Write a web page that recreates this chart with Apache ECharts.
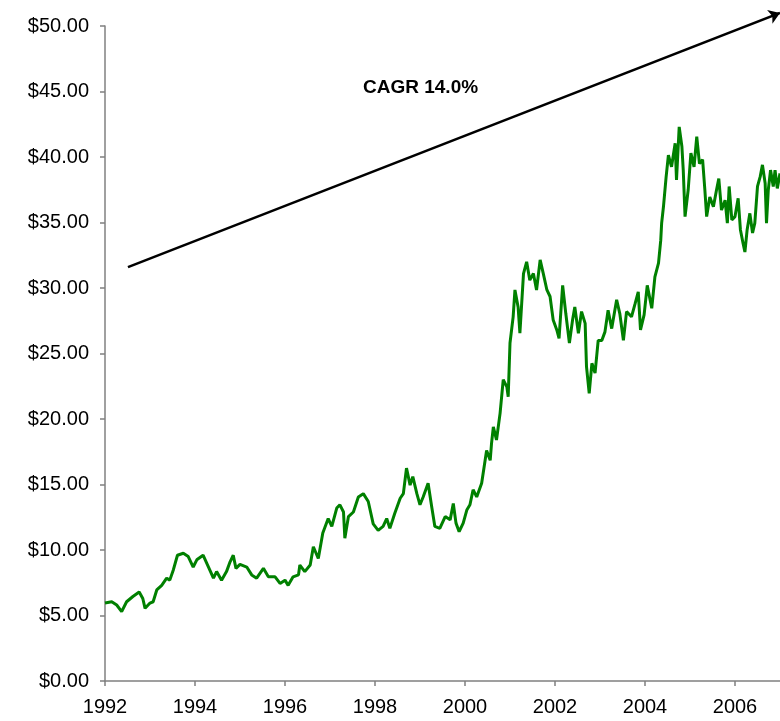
<!DOCTYPE html>
<html>
<head>
<meta charset="utf-8">
<script src="https://cdn.jsdelivr.net/npm/echarts@6/dist/echarts.min.js"></script>
<style>
html,body{margin:0;padding:0;background:#fff;}
#chart{width:780px;height:721px;}
</style>
</head>
<body>
<div id="chart"></div>
<script>
// Time (decimal years) and price values
const years = [
1992.00,1992.15,1992.26,1992.37,1992.48,1992.62,1992.76,1992.84,1992.89,1993.00,
1993.07,1993.15,1993.26,1993.37,1993.44,1993.52,1993.61,1993.74,1993.85,1993.96,
1994.04,1994.18,1994.30,1994.41,1994.48,1994.59,1994.70,1994.78,1994.85,1994.91,
1995.00,1995.15,1995.26,1995.37,1995.52,1995.63,1995.78,1995.89,1996.00,1996.07,
1996.18,1996.30,1996.33,1996.44,1996.56,1996.63,1996.74,1996.84,1996.96,1997.04,
1997.15,1997.22,1997.30,1997.33,1997.41,1997.52,1997.63,1997.74,1997.85,1997.96,
1998.07,1998.18,1998.26,1998.33,1998.44,1998.56,1998.63,1998.70,1998.78,1998.84,
1998.93,1999.00,1999.07,1999.18,1999.26,1999.33,1999.44,1999.56,1999.67,1999.74,
1999.80,1999.87,1999.96,2000.04,2000.11,2000.18,2000.26,2000.37,2000.48,2000.56,
2000.59,2000.63,2000.70,2000.78,2000.85,2000.93,2000.96,2001.00,2001.07,2001.11,
2001.18,2001.22,2001.30,2001.37,2001.44,2001.52,2001.59,2001.67,2001.74,2001.82,
2001.89,2001.96,2002.04,2002.09,2002.17,2002.24,2002.32,2002.39,2002.44,2002.52,
2002.59,2002.67,2002.70,2002.76,2002.82,2002.89,2002.96,2003.04,2003.11,2003.18,
2003.26,2003.37,2003.44,2003.52,2003.59,2003.70,2003.78,2003.85,2003.90,2003.98,
2004.05,2004.15,2004.22,2004.30,2004.35,2004.37,2004.41,2004.47,2004.52,2004.59,
2004.67,2004.70,2004.76,2004.82,2004.85,2004.89,2004.96,2005.02,2005.09,2005.15,
2005.21,2005.28,2005.33,2005.37,2005.44,2005.52,2005.59,2005.64,2005.70,2005.78,
2005.83,2005.87,2005.93,2006.00,2006.07,2006.12,2006.18,2006.22,2006.27,2006.33,
2006.39,2006.44,2006.50,2006.56,2006.61,2006.67,2006.70,2006.74,2006.79,2006.85,
2006.89,2006.94,2007.00
];
const prices = [
5.95,6.05,5.80,5.30,6.05,6.45,6.80,6.30,5.55,5.95,
6.05,6.95,7.30,7.85,7.70,8.50,9.60,9.75,9.50,8.70,
9.25,9.60,8.70,7.85,8.35,7.70,8.35,9.10,9.60,8.60,
8.90,8.70,8.10,7.85,8.60,7.95,7.95,7.45,7.70,7.30,
7.95,8.10,8.85,8.35,8.85,10.25,9.35,11.30,12.40,11.80,
13.20,13.45,12.90,10.90,12.55,12.90,14.05,14.30,13.70,12.00,
11.50,11.80,12.40,11.65,12.80,13.95,14.30,16.25,14.95,15.60,
14.30,13.45,14.05,15.10,13.30,11.80,11.65,12.55,12.30,13.55,
12.05,11.40,12.05,13.05,13.45,14.60,14.05,15.10,17.60,16.85,
18.15,19.40,18.40,20.45,23.00,22.45,21.70,25.80,27.80,29.85,
28.55,26.55,31.10,32.00,30.60,31.10,29.85,32.15,31.10,29.85,
29.35,27.55,26.80,26.15,30.20,28.05,25.80,27.55,28.55,26.55,
28.20,27.30,24.00,21.95,24.25,23.50,26.00,26.00,26.65,28.30,
26.90,29.10,28.05,26.00,28.20,27.80,28.80,29.70,26.80,27.95,
30.20,28.45,30.85,31.90,33.65,34.95,36.20,38.50,40.15,39.25,
41.05,38.25,42.30,40.80,39.00,35.45,37.50,40.30,39.25,41.55,
39.50,39.80,37.50,35.45,36.95,36.20,37.50,38.35,35.95,36.70,
34.95,37.75,35.20,35.45,36.85,34.45,33.40,32.75,34.45,35.70,
34.20,34.95,37.75,38.50,39.40,38.00,34.95,37.50,39.00,37.75,
39.00,37.60,38.75
];
// Trend arrow endpoints [year, value]
const arrowStart = [1992.51, 31.6];
const arrowEnd = [2007.0, 51.0];
const annotationText = 'CAGR 14.0%';
const xTicks = { min: 1992, max: 2007, interval: 2 };
const yTicks = { min: 0, max: 50, interval: 5 };

const chart = echarts.init(document.getElementById('chart'), null, {renderer: 'canvas'});
const seriesData = years.map((y, i) => [y, prices[i]]);
const axisColor = '#808080';
const font = '"Liberation Sans", Arial, sans-serif';

chart.setOption({
  animation: false,
  backgroundColor: '#ffffff',
  grid: { left: 105, right: 0, top: 26, bottom: 40, containLabel: false },
  xAxis: {
    type: 'value',
    min: xTicks.min, max: xTicks.max, interval: xTicks.interval,
    axisLine: { show: true, lineStyle: { color: axisColor, width: 1.5 } },
    axisTick: { show: true, length: 5, lineStyle: { color: axisColor, width: 1.5 } },
    splitLine: { show: false },
    axisLabel: {
      showMaxLabel: false,
      margin: 16,
      color: '#000',
      fontFamily: font,
      fontSize: 20,
      formatter: v => String(Math.round(v))
    }
  },
  yAxis: {
    type: 'value',
    min: yTicks.min, max: yTicks.max, interval: yTicks.interval,
    axisLine: { show: true, lineStyle: { color: axisColor, width: 1.5 } },
    axisTick: { show: true, length: 5, lineStyle: { color: axisColor, width: 1.5 } },
    splitLine: { show: false },
    axisLabel: {
      margin: 16,
      color: '#000',
      fontFamily: font,
      fontSize: 20,
      formatter: v => '$' + v.toFixed(2)
    }
  },
  series: [
    {
      type: 'line',
      data: seriesData,
      showSymbol: false,
      symbol: 'none',
      lineStyle: { color: '#008000', width: 3 },
      z: 2
    },
    {
      type: 'lines',
      coordinateSystem: 'cartesian2d',
      clip: false,
      symbol: ['none', 'arrow'],
      symbolSize: 11,
      lineStyle: { color: '#000', width: 2.5, opacity: 1 },
      data: [{ coords: [arrowStart, arrowEnd] }],
      z: 3
    }
  ],
  graphic: [
    {
      type: 'text',
      left: 363,
      top: 78,
      style: {
        text: annotationText,
        fill: '#000',
        font: 'bold 19px "Liberation Sans", Arial, sans-serif'
      }
    }
  ]
});
</script>
</body>
</html>
